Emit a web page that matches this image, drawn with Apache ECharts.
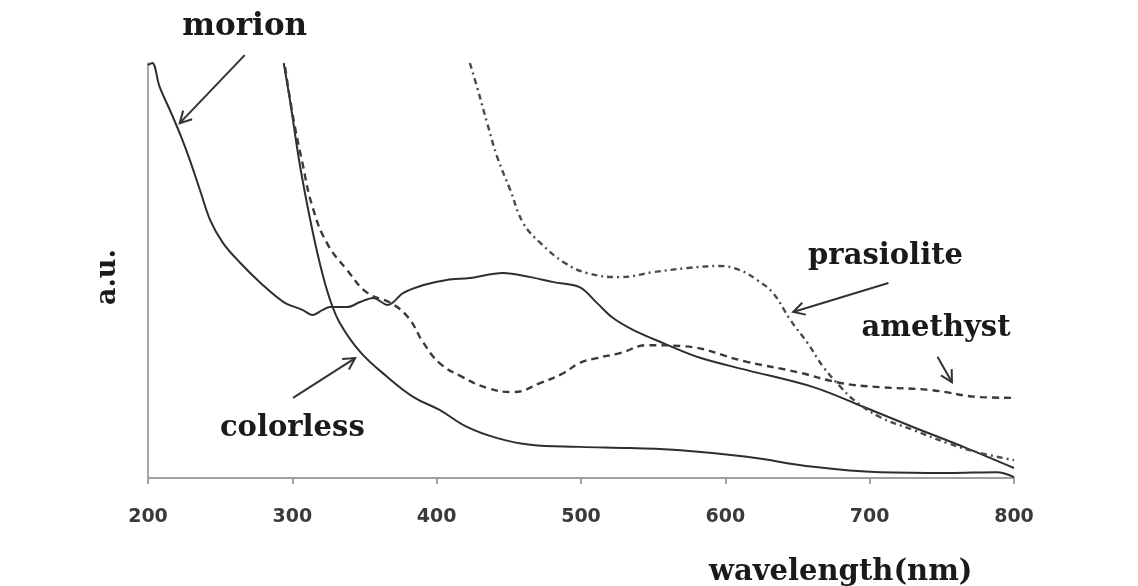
<!DOCTYPE html>
<html>
<head>
<meta charset="utf-8">
<script src="https://cdn.jsdelivr.net/npm/echarts@6/dist/echarts.min.js"></script>
<style>html,body{margin:0;padding:0;background:#fff}#c{width:1138px;height:586px}</style>
</head>
<body>
<div id="c"></div>
<script>
// ---------- data (arbitrary units 0-100) ----------
const xTickValues = [200, 300, 400, 500, 600, 700, 800];

const morionWavelength = [200, 203, 208, 216, 223, 229, 236, 243, 252, 264, 278, 294, 307, 314, 321, 326, 338, 347, 356, 366, 377, 391, 407, 423, 446, 465, 481, 499, 511, 522, 536, 557, 583, 615, 661, 696, 730, 765, 800];
const morionValue      = [99.5, 100, 94.3, 88, 82.2, 76.6, 69.4, 62.2, 56.6, 51.8, 47, 42.4, 40.5, 39.3, 40.5, 41.2, 41.2, 42.4, 43.4, 41.7, 44.6, 46.5, 47.7, 48.2, 49.4, 48.4, 47.2, 46, 42.2, 38.6, 35.7, 32.5, 28.9, 26, 21.9, 17.1, 12.3, 7.5, 2.4];

const colorlessWavelength = [294, 298, 305, 312, 319, 326, 333, 347, 366, 384, 402, 421, 442, 465, 499, 534, 569, 615, 661, 707, 754, 788, 800];
const colorlessValue      = [100, 91.8, 75.9, 62.9, 51.8, 43.1, 37.3, 30.4, 24.3, 19.5, 16.4, 12.3, 9.6, 8, 7.5, 7.2, 6.7, 5.1, 2.7, 1.4, 1.2, 1.4, 0.2];

const amethystWavelength = [295, 300, 307, 314, 324, 338, 352, 368, 380, 391, 402, 418, 435, 453, 472, 488, 499, 511, 527, 546, 569, 615, 650, 680, 707, 742, 777, 800];
const amethystValue      = [99, 88, 75.9, 65.3, 56.6, 50.1, 44.6, 42.2, 38.8, 32.5, 27.7, 24.3, 21.7, 20.7, 22.9, 25.3, 27.7, 28.9, 30.1, 32, 31.8, 28, 25.5, 22.9, 21.9, 21.2, 19.5, 19.3];

const prasioliteWavelength = [423, 428, 435, 442, 451, 460, 472, 488, 504, 527, 550, 574, 596, 610, 622, 633, 645, 657, 668, 680, 689, 707, 730, 754, 777, 800];
const prasioliteValue      = [100, 94.2, 85.5, 77.3, 69.4, 61.4, 56.6, 52, 49.4, 48.4, 49.6, 50.6, 51.1, 50.1, 47.7, 44.6, 38.1, 32.5, 26.7, 21.9, 18.8, 14.7, 11.6, 8.4, 6, 4.3];

// annotation texts and arrows, anchored in data coordinates
const labelTexts = ['morion', 'prasiolite', 'amethyst', 'colorless', 'wavelength(nm)', 'a.u.'];
const labelAnchors = [[267, 108.7], [711, 53.5], [746, 36.1], [300, 12.0], [680, -22.7], [172, 48.4]];
const labelSizes = [31, 29, 29, 29, 29, 27];
const labelRotations = [0, 0, 0, 0, 0, 90];
const arrowFrom = [[267, 101.9], [713, 47.0], [747, 29.2], [300.5, 19.3]];
const arrowTo   = [[222, 85.5], [647, 40.0], [757, 23.1], [343.5, 28.9]];

// ---------- chart ----------
const zip = (a, b) => a.map((v, i) => [v, b[i]]);
const chart = echarts.init(document.getElementById('c'), null, {renderer: 'canvas'});
const lineColor = '#2e2e2e';

chart.setOption({
  animation: false,
  backgroundColor: '#ffffff',
  grid: {left: 148, right: 124, top: 63, bottom: 108},
  xAxis: {
    type: 'value', min: 200, max: 800, interval: 100,
    axisLine: {lineStyle: {color: '#a0a0a0', width: 2}},
    axisTick: {show: true, length: 6, lineStyle: {color: '#a0a0a0', width: 2}},
    splitLine: {show: false},
    axisLabel: {
      margin: 30, color: '#3a3a3a', fontFamily: 'DejaVu Sans', fontWeight: 'bold', fontSize: 19,
      customValues: xTickValues
    }
  },
  yAxis: {
    type: 'value', min: 0, max: 100,
    axisLine: {show: true, lineStyle: {color: '#a8a8a8', width: 2}},
    axisTick: {show: false}, axisLabel: {show: false}, splitLine: {show: false}
  },
  series: [
    {name: 'morion', type: 'line', data: zip(morionWavelength, morionValue), showSymbol: false, smooth: 0.35,
     lineStyle: {color: lineColor, width: 2}},
    {name: 'colorless', type: 'line', data: zip(colorlessWavelength, colorlessValue), showSymbol: false, smooth: 0.4,
     lineStyle: {color: lineColor, width: 2}},
    {name: 'amethyst', type: 'line', data: zip(amethystWavelength, amethystValue), showSymbol: false, smooth: 0.45,
     lineStyle: {color: '#3a3a3a', width: 2.4, type: [7, 5]}},
    {name: 'prasiolite', type: 'line', data: zip(prasioliteWavelength, prasioliteValue), showSymbol: false, smooth: 0.4,
     lineStyle: {color: '#4a4a4a', width: 2.4, type: [6, 4, 2, 4]}}
  ]
});

// annotations placed through the chart's own scales
const px = p => chart.convertToPixel({gridIndex: 0}, p);
const graphics = [];
labelTexts.forEach((t, i) => {
  const p = px(labelAnchors[i]);
  graphics.push({
    type: 'text', x: p[0], y: p[1], rotation: labelRotations[i] * Math.PI / 180, silent: true,
    style: {text: t, font: 'bold ' + labelSizes[i] + 'px "DejaVu Serif"', fill: '#1a1a1a', textAlign: 'center', textVerticalAlign: 'middle'}
  });
});
arrowFrom.forEach((f, i) => {
  const a = px(f), b = px(arrowTo[i]);
  const dx = b[0] - a[0], dy = b[1] - a[1];
  const len = Math.hypot(dx, dy), ux = dx / len, uy = dy / len;
  const L = 13, ang = 0.5;
  const rot = (s) => [b[0] - L * (ux * Math.cos(s) - uy * Math.sin(s)), b[1] - L * (ux * Math.sin(s) + uy * Math.cos(s))];
  graphics.push({type: 'line', silent: true, shape: {x1: a[0], y1: a[1], x2: b[0], y2: b[1]}, style: {stroke: '#333', lineWidth: 2}});
  graphics.push({type: 'polyline', silent: true, shape: {points: [rot(ang), b, rot(-ang)]}, style: {stroke: '#333', lineWidth: 2, fill: null}});
});
chart.setOption({graphic: graphics});
</script>
</body>
</html>
